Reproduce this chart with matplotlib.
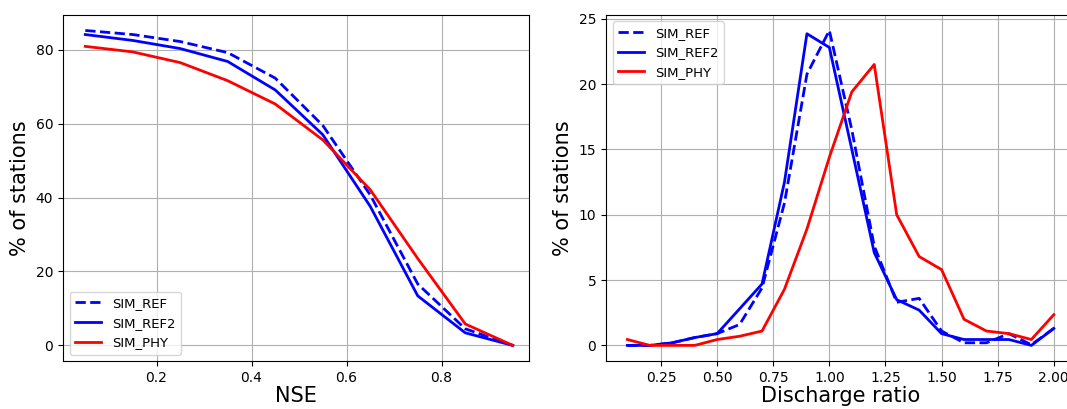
import matplotlib
matplotlib.use("Agg")
import matplotlib.pyplot as plt

# NSE panel (cumulative % of stations)
nse_x = [0.05, 0.15, 0.25, 0.35, 0.45, 0.55, 0.65, 0.75, 0.85, 0.95]
nse_ref = [85.2, 84.1, 82.2, 79.2, 72.3, 59.5, 40.7, 16.6, 4.5, 0.0]
nse_ref2 = [84.1, 82.5, 80.3, 76.8, 69.1, 57.0, 37.6, 13.4, 3.4, 0.0]
nse_phy = [80.9, 79.4, 76.5, 71.6, 65.3, 55.6, 42.1, 23.5, 5.8, 0.0]

# discharge ratio panel (% of stations per bin)
ratio_x = [0.1, 0.2, 0.3, 0.4, 0.5, 0.6, 0.7, 0.8, 0.9, 1.0,
           1.1, 1.2, 1.3, 1.4, 1.5, 1.6, 1.7, 1.8, 1.9, 2.0]
ratio_ref = [0.0, 0.0, 0.2, 0.6, 0.9, 1.6, 4.4, 10.9, 20.75, 24.1,
             16.5, 7.6, 3.3, 3.6, 1.1, 0.2, 0.2, 0.9, 0.05, 1.3]
ratio_ref2 = [0.0, 0.0, 0.2, 0.6, 0.9, 2.8, 4.7, 12.5, 23.85, 22.8,
              15.0, 7.1, 3.5, 2.7, 0.9, 0.45, 0.45, 0.45, 0.0, 1.3]
ratio_phy = [0.45, 0.0, 0.0, 0.0, 0.45, 0.7, 1.1, 4.3, 8.9, 14.4,
             19.4, 21.5, 10.0, 6.8, 5.8, 2.0, 1.1, 0.9, 0.45, 2.35]

fig = plt.figure(figsize=(10.67, 4.09), dpi=100)
ax1 = fig.add_axes([0.059, 0.117, 0.4367, 0.847])
ax2 = fig.add_axes([0.568, 0.117, 0.4396, 0.847])

ax1.plot(nse_x, nse_ref, 'b--', lw=2, label='SIM_REF')
ax1.plot(nse_x, nse_ref2, 'b-', lw=2, label='SIM_REF2')
ax1.plot(nse_x, nse_phy, 'r-', lw=2, label='SIM_PHY')
ax1.set_xlim(0.003, 0.984)
ax1.set_xticks([0.2, 0.4, 0.6, 0.8])
ax1.set_yticks([0, 20, 40, 60, 80])
ax1.set_xlabel('NSE', fontsize=15, labelpad=1)
ax1.set_ylabel('% of stations', fontsize=15)
ax1.legend(loc='lower left', fontsize=9.5)

ax2.plot(ratio_x, ratio_ref, 'b--', lw=2, label='SIM_REF')
ax2.plot(ratio_x, ratio_ref2, 'b-', lw=2, label='SIM_REF2')
ax2.plot(ratio_x, ratio_phy, 'r-', lw=2, label='SIM_PHY')
ax2.set_xticks([0.25, 0.5, 0.75, 1.0, 1.25, 1.5, 1.75, 2.0])
ax2.set_yticks([0, 5, 10, 15, 20, 25])
ax2.set_xlabel('Discharge ratio', fontsize=15, labelpad=1)
ax2.set_ylabel('% of stations', fontsize=15)
ax2.legend(loc='upper left', fontsize=9.5)

for ax in (ax1, ax2):
    ax.grid(True)
    ax.tick_params(labelsize=10)

fig.savefig('out.png', dpi=100)
